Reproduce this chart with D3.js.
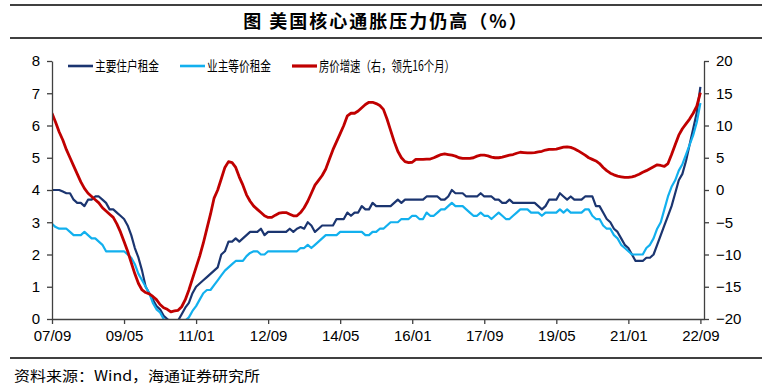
<!DOCTYPE html>
<html>
<head>
<meta charset="utf-8">
<script src="https://cdn.jsdelivr.net/npm/d3@7"></script>
<style>
  body { margin: 0; background: #fff; }
  svg { font-family: "Liberation Sans", Arial, sans-serif; }
</style>
</head>
<body>
<svg id="chart" width="772" height="390"></svg>
<script>
// monthly, 2007/09 .. 2022/09
var months = d3.timeMonth.range(new Date(2007, 8, 1), new Date(2022, 9, 1));

// 主要住户租金 (left, %)
var rentPrimary = [
    4.0, 4.0, 4.0, 3.95, 3.9, 3.9, 3.7, 3.6, 3.6, 3.5, 3.7, 3.7,
    3.8, 3.8, 3.7, 3.6, 3.4, 3.4, 3.3, 3.2, 3.1, 2.9, 2.6, 2.2,
    1.9, 1.5, 1.0, 0.8, 0.6, 0.4, 0.3, 0.1, 0.0, -0.1, -0.1, -0.05,
    0.15, 0.35, 0.5, 0.8, 1.0, 1.1, 1.2, 1.3, 1.4, 1.5, 1.6, 2.0,
    2.1, 2.4, 2.4, 2.5, 2.4, 2.5, 2.6, 2.7, 2.7, 2.7, 2.8, 2.6,
    2.7, 2.7, 2.7, 2.7, 2.7, 2.7, 2.8, 2.7, 2.8, 2.85, 2.8, 3.0,
    2.9, 2.7, 2.8, 2.9, 2.9, 2.9, 2.9, 3.1, 3.1, 3.1, 3.3, 3.2,
    3.3, 3.3, 3.5, 3.4, 3.4, 3.6, 3.5, 3.5, 3.5, 3.5, 3.5, 3.6,
    3.7, 3.6, 3.7, 3.7, 3.7, 3.7, 3.7, 3.7, 3.8, 3.8, 3.8, 3.8,
    3.7, 3.7, 3.8, 4.0, 3.9, 3.9, 3.9, 3.8, 3.8, 3.8, 3.8, 3.9,
    3.8, 3.8, 3.8, 3.7, 3.7, 3.6, 3.6, 3.7, 3.6, 3.6, 3.6, 3.6,
    3.6, 3.6, 3.6, 3.5, 3.4, 3.5, 3.7, 3.7, 3.7, 3.9, 3.8, 3.7,
    3.8, 3.7, 3.7, 3.7, 3.8, 3.8, 3.8, 3.5, 3.5, 3.3, 3.1, 3.0,
    2.8, 2.7, 2.5, 2.3, 2.2, 2.0, 1.8, 1.8, 1.8, 1.9, 1.9, 2.0,
    2.3, 2.6, 2.9, 3.2, 3.5, 3.9, 4.3, 4.5, 4.9, 5.4, 5.9, 6.4,
    7.2
];

// 业主等价租金 (left, %)
var oer = [
    2.95, 2.85, 2.8, 2.8, 2.8, 2.7, 2.6, 2.6, 2.6, 2.7, 2.6, 2.5,
    2.5, 2.4, 2.3, 2.1, 2.1, 2.1, 2.1, 2.1, 2.1, 2.0, 1.9, 1.7,
    1.4, 1.2, 1.0, 0.8, 0.5, 0.3, 0.2, 0.0, -0.1, -0.2, -0.3, -0.3,
    -0.2, -0.05, 0.05, 0.25, 0.4, 0.6, 0.8, 0.9, 0.9, 1.05, 1.2, 1.35,
    1.5, 1.6, 1.7, 1.8, 1.8, 1.8, 1.95, 2.05, 2.1, 2.1, 2.0, 2.0,
    2.1, 2.1, 2.1, 2.1, 2.1, 2.1, 2.1, 2.1, 2.1, 2.2, 2.2, 2.3,
    2.2, 2.3, 2.4, 2.5, 2.6, 2.6, 2.6, 2.6, 2.7, 2.7, 2.7, 2.7,
    2.7, 2.7, 2.7, 2.6, 2.6, 2.7, 2.7, 2.8, 2.8, 2.9, 3.0, 3.0,
    3.0, 3.1, 3.1, 3.1, 3.2, 3.2, 3.1, 3.1, 3.3, 3.2, 3.2, 3.3,
    3.4, 3.4, 3.5, 3.6, 3.5, 3.5, 3.5, 3.4, 3.3, 3.2, 3.2, 3.3,
    3.2, 3.2, 3.1, 3.2, 3.3, 3.2, 3.1, 3.1, 3.2, 3.3, 3.4, 3.4,
    3.4, 3.3, 3.3, 3.3, 3.2, 3.3, 3.3, 3.3, 3.3, 3.4, 3.3, 3.4,
    3.3, 3.3, 3.3, 3.3, 3.4, 3.4, 3.2, 3.1, 3.1, 2.9, 2.8, 2.8,
    2.6, 2.5, 2.3, 2.2, 2.1, 2.0, 2.0, 2.0, 2.0, 2.2, 2.3, 2.5,
    2.8, 3.0, 3.4, 3.8, 4.1, 4.3, 4.6, 4.8, 5.1, 5.4, 5.7, 6.1,
    6.7
];

// 房价增速 (right, %, shifted 16 months ahead)
var housePrice = [
    11.9, 10.5, 9.0, 7.75, 6.25, 5.0, 3.75, 2.5, 1.25, 0.25, -0.5, -1.0,
    -1.5, -2.0, -2.75, -3.25, -3.75, -4.25, -5.25, -6.5, -8.0, -9.5, -11.25, -13.0,
    -14.5, -15.5, -15.9, -16.1, -16.5, -17.0, -17.75, -18.25, -18.5, -18.9, -18.75, -18.65,
    -18.1, -17.0, -15.5, -13.75, -12.0, -10.25, -8.25, -6.0, -3.75, -1.25, 0.0, 1.75,
    3.5, 4.4, 4.25, 3.5, 2.0, 0.75, -0.75, -1.75, -2.5, -3.0, -3.5, -4.0,
    -4.25, -4.25, -3.9, -3.6, -3.5, -3.5, -3.75, -4.0, -4.0, -3.5, -2.75, -1.75,
    -0.5, 0.75, 1.5, 2.25, 3.25, 4.75, 6.25, 7.5, 8.75, 10.0, 11.5, 11.9,
    11.9, 12.25, 12.75, 13.25, 13.6, 13.6, 13.4, 13.1, 12.5, 11.0, 9.25, 7.5,
    6.0, 5.0, 4.4, 4.25, 4.3, 4.75, 4.75, 4.75, 4.8, 4.8, 5.0, 5.25,
    5.5, 5.6, 5.5, 5.4, 5.25, 5.0, 4.9, 4.9, 4.9, 5.0, 5.25, 5.4,
    5.4, 5.3, 5.1, 5.0, 5.0, 5.1, 5.25, 5.4, 5.5, 5.7, 5.85, 5.8,
    5.75, 5.75, 5.8, 5.9, 6.0, 6.2, 6.3, 6.3, 6.35, 6.5, 6.65, 6.7,
    6.6, 6.4, 6.1, 5.75, 5.4, 5.0, 4.75, 4.5, 4.1, 3.5, 3.0, 2.6,
    2.35, 2.15, 2.05, 1.95, 1.95, 2.05, 2.2, 2.45, 2.75, 3.0, 3.3, 3.6,
    3.9, 3.8, 3.65, 4.1, 5.5, 7.0, 8.5, 9.5, 10.25, 11.0, 11.9, 13.0,
    15.1
];

var tickMonths = [0, 20, 40, 60, 80, 100, 120, 140, 160, 180];
var tickLabels = ["07/09", "09/05", "11/01", "12/09", "14/05", "16/01", "17/09", "19/05", "21/01", "22/09"];
var leftTicks = [0, 1, 2, 3, 4, 5, 6, 7, 8];
var rightTicks = [-20, -15, -10, -5, 0, 5, 10, 15, 20];

var svg = d3.select("#chart");
var axisColor = "#404040";

// frame lines + title + source
[5, 38, 358].forEach(function(y) {
    svg.append("line").attr("x1", 10).attr("x2", 762).attr("y1", y).attr("y2", y)
        .attr("stroke", "#000").attr("stroke-width", 1.5);
});
svg.append("text").attr("x", 386).attr("y", 28).attr("text-anchor", "middle")
    .style("font-family", "'Noto Sans CJK SC', sans-serif").style("font-weight", "bold")
    .style("font-size", "18px").style("letter-spacing", "2px")
    .text("图 美国核心通胀压力仍高（%）");
svg.append("text").attr("x", 14).attr("y", 381)
    .style("font-family", "'Noto Sans CJK SC', sans-serif").style("font-size", "14px")
    .attr("textLength", 246).attr("lengthAdjust", "spacingAndGlyphs")
    .text("资料来源：Wind，海通证券研究所");

var x = d3.scaleLinear().domain([0, 181]).range([52, 704]);
var yL = d3.scaleLinear().domain([0, 8]).range([319, 61]);
var yR = d3.scaleLinear().domain([-20, 20]).range([319, 61]);

svg.append("defs").append("clipPath").attr("id", "plot")
    .append("rect").attr("x", 52).attr("y", 55).attr("width", 652).attr("height", 264);

var g = svg.append("g").attr("clip-path", "url(#plot)");

var lineL = d3.line().x(function(d, i) { return x(i); }).y(function(d) { return yL(d); });
var lineR = d3.line().x(function(d, i) { return x(i); }).y(function(d) { return yR(d); });

var series = [
    {name: "主要住户租金", data: rentPrimary, color: "#1B3570", width: 2.2, line: lineL},
    {name: "业主等价租金", data: oer, color: "#12B0EE", width: 2.2, line: lineL},
    {name: "房价增速（右，领先16个月）", data: housePrice, color: "#C00000", width: 2.8, line: lineR}
];

series.forEach(function(s) {
    g.append("path").datum(s.data)
        .attr("d", s.line)
        .attr("fill", "none")
        .attr("stroke", s.color)
        .attr("stroke-width", s.width)
        .attr("stroke-linejoin", "round");
});

// axes
function styleAxis(sel) {
    sel.selectAll("path, line").attr("stroke", axisColor).attr("stroke-width", 1.3);
    sel.selectAll("text").attr("fill", "#000").style("font-size", "15px");
}

svg.append("g").attr("transform", "translate(52,0)")
    .call(d3.axisLeft(yL).tickValues(leftTicks).tickSize(5).tickSizeOuter(0).tickPadding(7))
    .call(styleAxis);

svg.append("g").attr("transform", "translate(704,0)")
    .call(d3.axisRight(yR).tickValues(rightTicks).tickSize(5).tickSizeOuter(0).tickPadding(7))
    .call(styleAxis);

svg.append("g").attr("transform", "translate(0,319)")
    .call(d3.axisBottom(x).tickValues(tickMonths).tickSize(5).tickSizeOuter(0).tickPadding(6)
        .tickFormat(function(d, i) { return tickLabels[i]; }))
    .call(styleAxis);

// legend
var legendX = [68, 180, 292];
var legendW = [64, 64, 136];
var legend = svg.append("g");
series.forEach(function(s, i) {
    legend.append("line")
        .attr("x1", legendX[i]).attr("x2", legendX[i] + 25)
        .attr("y1", 66).attr("y2", 66)
        .attr("stroke", s.color).attr("stroke-width", s.width + 0.4);
    legend.append("text")
        .attr("x", legendX[i] + 27).attr("y", 71)
        .style("font-family", "'Noto Sans CJK SC', sans-serif").style("font-size", "14px")
        .attr("textLength", legendW[i]).attr("lengthAdjust", "spacingAndGlyphs")
        .text(s.name);
});
</script>
</body>
</html>
